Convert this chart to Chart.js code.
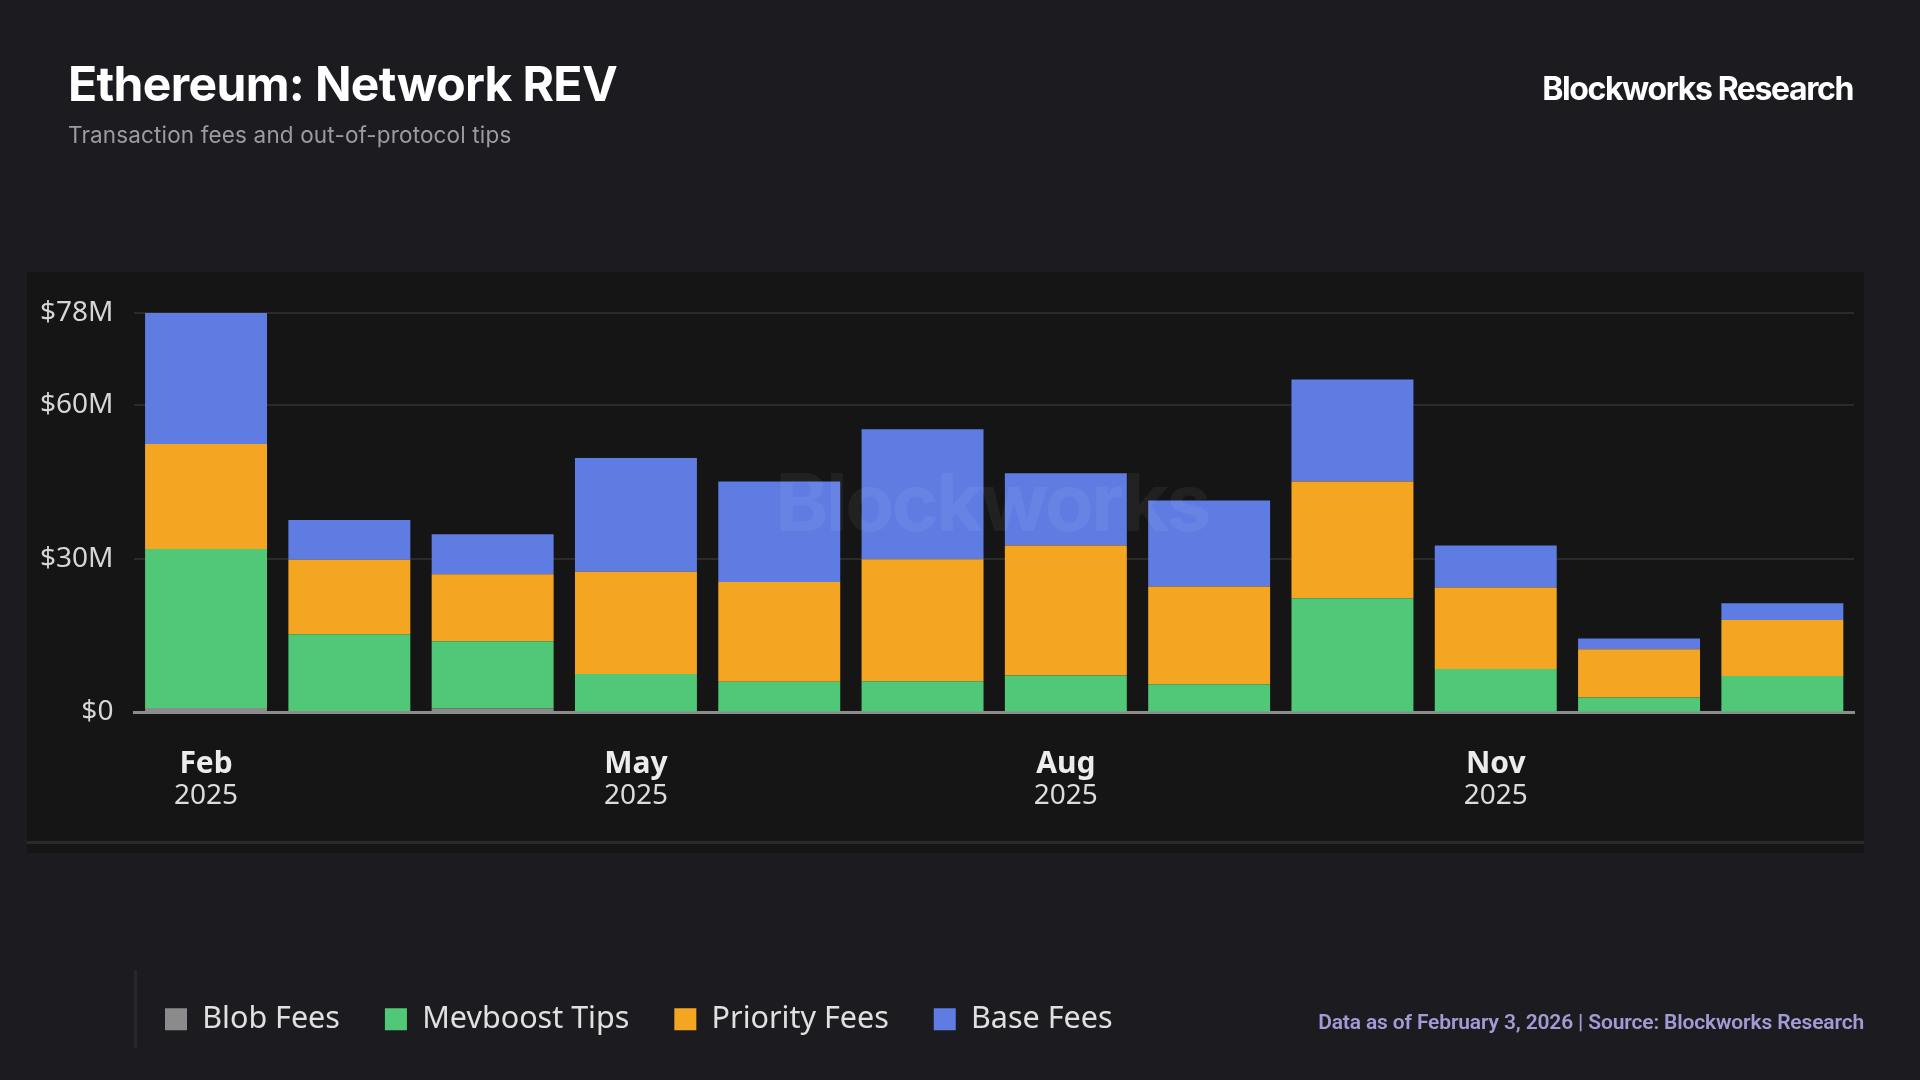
<!DOCTYPE html>
<html>
<head>
<meta charset="utf-8">
<script src="https://cdn.jsdelivr.net/npm/chart.js@4.4.1/dist/chart.umd.min.js"></script>
<style>
  html, body { margin:0; padding:0; background:#1c1c20; }
  #page { position:relative; width:1920px; height:1080px; overflow:hidden; background:#1c1c20; }
  #panel { position:absolute; left:27px; top:272px; width:1837px; height:581px; background:#151515; }
  #panelLine { position:absolute; left:27px; top:841px; width:1837px; height:3px; background:#2a2a2c; }
  #legendBar { position:absolute; left:134px; top:970px; width:3px; height:78px; background:#27272b; }
  canvas { position:absolute; left:0; top:0; }
  .txt { position:absolute; white-space:nowrap; font-family: Inter, "Noto Sans", sans-serif; line-height:1; }
  #title { left:68px; top:60px; font-size:48px; font-weight:700; color:#ffffff; letter-spacing:-0.65px; }
  #subtitle { left:68px; top:124px; font-size:22.5px; font-weight:400; color:#9b9ba2; letter-spacing:0.15px; }
  #brand { right:67px; top:73px; font-size:32px; font-weight:700; color:#ffffff; letter-spacing:-1.4px; }
  #footer { right:56px; top:1012px; font-size:21px; font-weight:600; color:#a29cd6; font-family: Roboto, "Noto Sans", sans-serif; letter-spacing:-0.15px; }
</style>
</head>
<body>
<div id="page">
  <div id="panel"></div>
  <div id="panelLine"></div>
  <div id="legendBar"></div>
  <canvas id="c" width="1920" height="1080"></canvas>
  <div class="txt" id="title">Ethereum: Network REV</div>
  <div class="txt" id="subtitle">Transaction fees and out-of-protocol tips</div>
  <div class="txt" id="brand">Blockworks Research</div>
  <div class="txt" id="footer">Data as of February 3, 2026 | Source: Blockworks Research</div>
</div>
<script>
// ---- Data (USD millions) ----
const months = ["Feb","Mar","Apr","May","Jun","Jul","Aug","Sep","Oct","Nov","Dec","Jan"];
const years  = ["2025","2025","2025","2025","2025","2025","2025","2025","2025","2025","2025","2026"];
const blobFees     = [0.9, 0.3, 0.8, 0.2, 0.1, 0.1, 0.1, 0.1, 0.1, 0.1, 0.05, 0.05];
const mevboostTips = [31.0, 15.0, 13.1, 7.3, 5.9, 6.0, 7.1, 5.4, 22.2, 8.4, 2.9, 7.1];
const priorityFees = [20.5, 14.5, 13.1, 20.0, 19.5, 23.8, 25.4, 19.1, 22.8, 15.9, 9.4, 10.9];
const baseFees     = [25.9, 7.8, 7.8, 22.2, 19.6, 25.4, 14.1, 16.8, 19.9, 8.2, 2.1, 3.3];
const yTickValues  = [0, 30, 60, 78];
const shownTickIdx = [0, 3, 6, 9];

const LEGEND_H = 100;

const watermark = {
  id: 'watermark',
  afterDatasetsDraw(chart) {
    const a = chart.chartArea, ctx = chart.ctx;
    ctx.save();
    ctx.font = '700 80px Inter, "Noto Sans", sans-serif';
    if ('letterSpacing' in ctx) ctx.letterSpacing = '-2.5px';
    ctx.fillStyle = 'rgba(255,255,255,0.055)';
    ctx.textAlign = 'center';
    ctx.textBaseline = 'middle';
    ctx.fillText('Blockworks', (a.left + a.right) / 2 - 2, (a.top + a.bottom) / 2 - 6);
    ctx.restore();
  }
};

const legendPlacer = {
  id: 'legendPlacer',
  beforeInit(chart) {
    const L = chart.legend;
    if (L && !L._patched) {
      const origFit = L.fit.bind(L);
      L.fit = function () { origFit(); this.height = LEGEND_H; };
      L._patched = true;
    }
  },
  afterLayout(chart) {
    const L = chart.legend;
    if (!L) return;
    const w = L.width;
    L.left = 120; L.right = w;
    L.top = 959; L.bottom = L.top + LEGEND_H;
  }
};

Chart.defaults.font.family = '"Noto Sans", "Open Sans", sans-serif';

new Chart(document.getElementById('c'), {
  type: 'bar',
  data: {
    labels: months,
    datasets: [
      { label: 'Blob Fees',     data: blobFees,     backgroundColor: '#8b8b8b' },
      { label: 'Mevboost Tips', data: mevboostTips, backgroundColor: '#51c878' },
      { label: 'Priority Fees', data: priorityFees, backgroundColor: '#f4a623' },
      { label: 'Base Fees',     data: baseFees,     backgroundColor: '#5f7ce3' }
    ]
  },
  options: {
    responsive: false,
    devicePixelRatio: 1,
    animation: false,
    layout: { padding: { left: 0, right: 66, top: 313, bottom: 0 } },
    datasets: { bar: { categoryPercentage: 1.0, barPercentage: 0.851, borderWidth: 0 } },
    plugins: {
      title: { display: false },
      tooltip: { enabled: false },
      legend: {
        display: true,
        position: 'bottom',
        align: 'start',
        labels: {
          boxWidth: 22, boxHeight: 22, padding: 45,
          color: '#e0e0e0',
          font: { size: 30.5, family: '"Noto Sans", "Open Sans", sans-serif' }
        }
      }
    },
    scales: {
      x: {
        stacked: true,
        offset: true,
        grid: { display: false, drawTicks: false },
        border: { display: true, color: '#8c8c8c', width: 3 },
        ticks: {
          autoSkip: false, maxRotation: 0, padding: 34,
          color: '#ececec',
          font: { size: 30, weight: 'bold' },
          callback: (v, i) => shownTickIdx.includes(i) ? months[i] : ''
        },
        afterFit: (s) => { s.height = 69; }
      },
      x2: {
        type: 'category',
        position: 'bottom',
        offset: true,
        labels: months,
        grid: { display: false, drawTicks: false },
        border: { display: false },
        ticks: {
          autoSkip: false, maxRotation: 0, padding: 0.5,
          color: '#dcdcdc',
          font: { size: 28, lineHeight: 1.0 },
          callback: (v, i) => shownTickIdx.includes(i) ? years[i] : ''
        },
        afterFit: (s) => { s.height = 1080 - LEGEND_H - 69 - 712.5; }
      },
      y: {
        stacked: true,
        min: 0, max: 78,
        grid: { color: '#2a2a2a', lineWidth: 2, drawTicks: false },
        border: { display: false },
        ticks: {
          padding: 21,
          color: '#d6d6d6',
          font: { size: 28 },
          callback: (v) => v === 0 ? '$0' : '$' + v + 'M'
        },
        afterBuildTicks: (s) => { s.ticks = yTickValues.map(v => ({ value: v })); },
        afterFit: (s) => { s.width = 134.4; }
      }
    }
  },
  plugins: [legendPlacer, watermark]
});
</script>
</body>
</html>
